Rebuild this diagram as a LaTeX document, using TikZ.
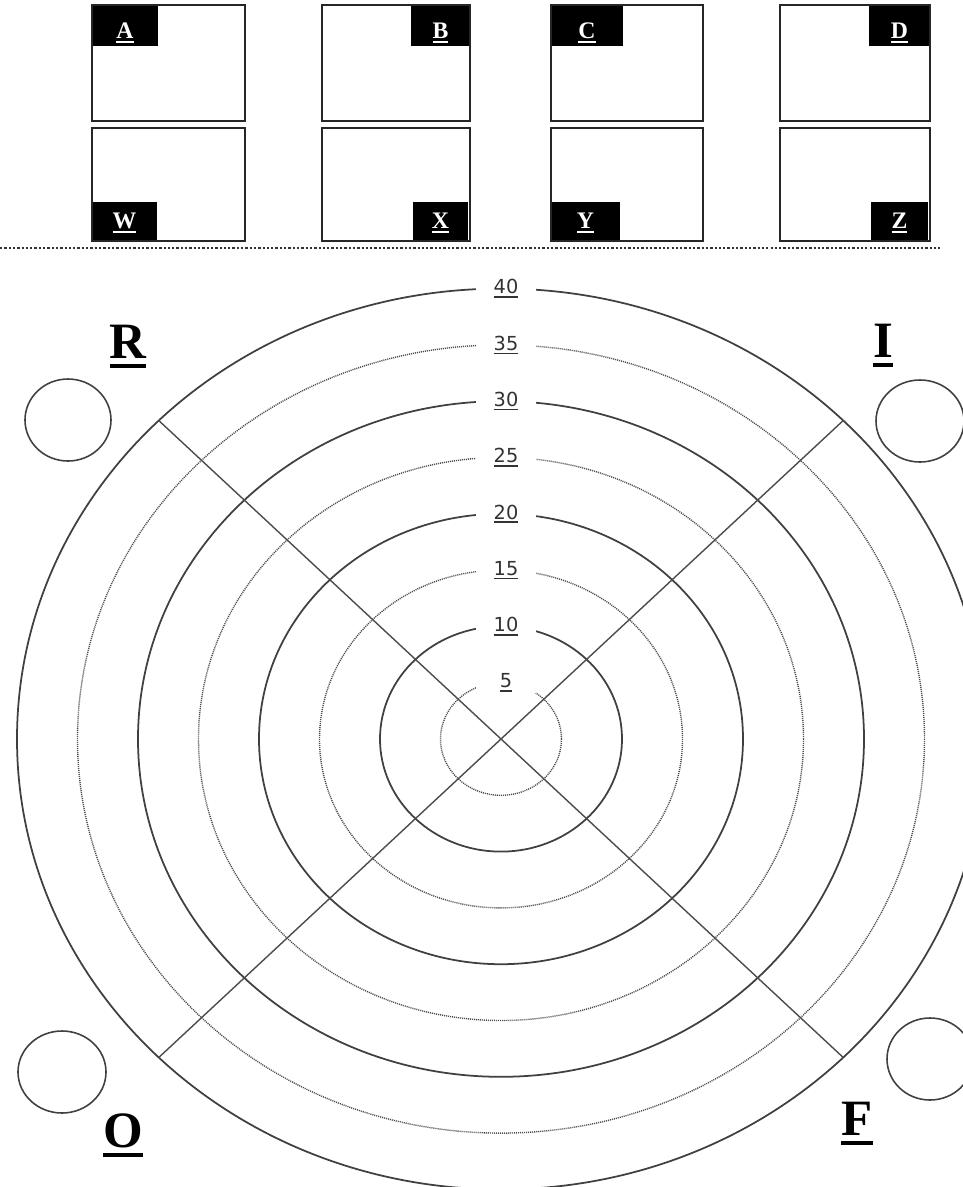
\documentclass[tikz,border=0pt]{standalone}
\usepackage{fontspec}
\setmainfont{Liberation Serif}
\newfontfamily\ringfont{DejaVu Sans}
\newcommand{\undl}[1]{\setbox0=\hbox{#1}\rlap{\copy0}\rule[-0.2em]{\wd0}{0.075em}}

\begin{document}
\begin{tikzpicture}[x=0.02cm,y=-0.02cm,
  frame/.style={draw=black!85,line width=1.1pt},
  tabtext/.style={text=white,inner sep=0pt,anchor=base,font=\bfseries\fontsize{13.5}{13.5}\selectfont},
  ringsolid/.style={draw=black!75,line width=1pt},
  ringdot/.style={draw=black!70,line width=0.8pt,dash pattern=on 0.6pt off 0.55pt},
  ringlabel/.style={fill=white,inner sep=0pt,minimum width=1.2cm,minimum height=0.4cm,text=black!80,font=\ringfont\fontsize{11}{11}\selectfont},
  corner/.style={anchor=base,inner sep=0pt,font=\bfseries\fontsize{29}{29}\selectfont},
  hole/.style={draw=black!75,line width=0.9pt},
  crossline/.style={draw=black!70,line width=0.8pt}]
  \useasboundingbox (0,0) rectangle (963,1187);

  % top row of frames, tab on top
  \foreach \lab/\xa/\xb/\ta/\tb in {A/92/245/92/158,B/322/470/411/470,C/551/703/551/623,D/780/930/869/930}{
    \fill (\ta,5) rectangle (\tb,46);
    \draw[frame] (\xa,5) rectangle (\xb,121);
    \node[tabtext] (tab\lab) at ({(\ta+\tb)/2},38) {\undl{\lab}};
  }
  % bottom row, tab at the foot
  \foreach \lab/\xa/\xb/\ta/\tb in {W/92/245/92/157,X/322/470/413/468,Y/551/703/551/620,Z/780/930/871/928}{
    \fill (\ta,202) rectangle (\tb,241);
    \draw[frame] (\xa,128) rectangle (\xb,241);
    \node[tabtext] (tab\lab) at ({(\ta+\tb)/2},228) {\undl{\lab}};
  }
  \draw[black!80,line width=1.3pt,dash pattern=on 1.3pt off 1.15pt] (0,248) -- (940,248);

  % rings
  \coordinate (c) at (501,739);
  \foreach \k in {1,3,5,7}
    \draw[ringdot] (c) ellipse [x radius=60.5*\k, y radius=56.3*\k];
  \foreach \k in {2,4,6,8}
    \draw[ringsolid] (c) ellipse [x radius=60.5*\k, y radius=56.3*\k];

  % diagonals
  \begin{scope}[shift={(c)}]
    \coordinate (nw) at (225:484 and 450.4);
    \coordinate (se) at (45:484 and 450.4);
    \coordinate (ne) at (315:484 and 450.4);
    \coordinate (sw) at (135:484 and 450.4);
  \end{scope}
  \draw[crossline] (nw) -- (se);
  \draw[crossline] (ne) -- (sw);

  % ring numbers
  \foreach \k in {1,...,8}{
    \pgfmathtruncatemacro\val{5*\k}
    \node[ringlabel] (lab\val) at (506,{739-56.3*\k}) {\undl{\val}};
  }

  % holes and corner letters
  \draw[hole] (68,420) ellipse [x radius=43, y radius=41];
  \draw[hole] (920,421) ellipse [x radius=44, y radius=41];
  \draw[hole] (62,1072) ellipse [x radius=44, y radius=41];
  \draw[hole] (930,1059) ellipse [x radius=43, y radius=41];
  \node[corner] (R) at (128,358) {\undl{R}};
  \node[corner] (I) at (883,357) {\undl{I}};
  \node[corner] (O) at (123,1147) {\undl{O}};
  \node[corner] (F) at (857,1135) {\undl{F}};
\end{tikzpicture}
\end{document}
